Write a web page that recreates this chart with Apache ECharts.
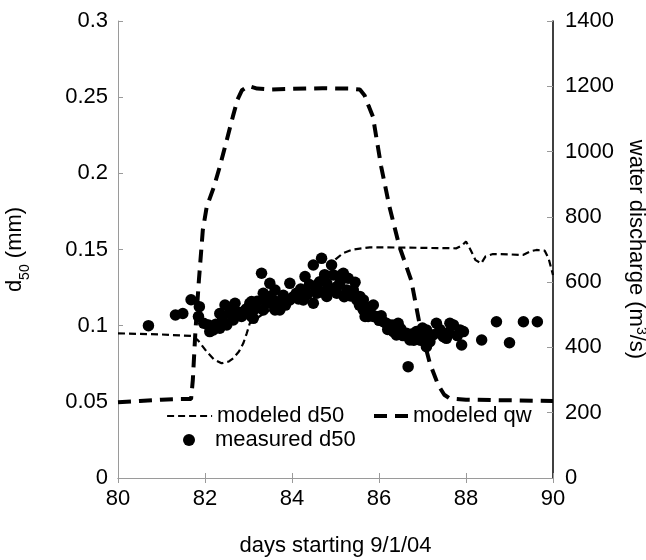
<!DOCTYPE html>
<html>
<head>
<meta charset="utf-8">
<script src="https://cdn.jsdelivr.net/npm/echarts@6/dist/echarts.min.js"></script>
<style>
html,body{margin:0;padding:0;background:#fff;}
#chart{width:646px;height:560px;}
</style>
</head>
<body>
<div id="chart"></div>
<script>
// ---- data ----
var xTicks = [80, 82, 84, 86, 88, 90];
var leftTicks = [0, 0.05, 0.1, 0.15, 0.2, 0.25, 0.3];
var rightTicks = [0, 200, 400, 600, 800, 1000, 1200, 1400];

// modeled water discharge (day, m3/s)
var qwDays = [80, 80.5, 81.0, 81.4, 81.68, 81.72, 81.78, 81.86, 81.95, 82.04, 82.2, 82.34, 82.5, 82.64, 82.75, 82.85, 83.0, 83.2, 83.5, 84.0, 84.7, 85.3, 85.56, 85.67, 85.76, 85.86, 86.05, 86.24, 86.47, 86.74, 86.93, 87.17, 87.36, 87.5, 87.62, 88.0, 89.0, 90];
var qwVals = [232, 236, 240, 242, 242, 300, 450, 606, 760, 831, 890, 954, 1035, 1107, 1160, 1188, 1201, 1193, 1190, 1192, 1194, 1193, 1190, 1172, 1140, 1107, 954, 831, 709, 606, 474, 351, 285, 255, 244, 240, 238, 236];

// modeled d50 (day, mm)
var d50ModDays = [80, 81.0, 81.73, 81.85, 82.04, 82.2, 82.38, 82.55, 82.65, 82.78, 82.88, 82.96, 83.03, 83.3, 83.6, 84.0, 84.4, 84.7, 84.87, 85.0, 85.17, 85.4, 85.79, 86.5, 87.2, 87.78, 87.9, 88.0, 88.1, 88.22, 88.35, 88.45, 88.62, 89.0, 89.31, 89.5, 89.62, 89.81, 89.9, 90];
var d50ModVals = [0.095, 0.0942, 0.0932, 0.09, 0.0829, 0.078, 0.0753, 0.0765, 0.0786, 0.083, 0.0884, 0.095, 0.1016, 0.107, 0.112, 0.118, 0.126, 0.134, 0.1387, 0.1435, 0.1475, 0.150, 0.1514, 0.1513, 0.151, 0.1508, 0.1525, 0.1552, 0.150, 0.143, 0.1409, 0.1455, 0.147, 0.1468, 0.1464, 0.149, 0.1497, 0.1492, 0.144, 0.1333];

// measured d50 (day, mm)
var measDays = [80.70, 81.32, 81.49, 81.68, 81.87, 81.85, 81.97, 82.08, 82.11, 82.19, 82.34, 82.34, 82.46, 82.50, 82.65, 82.69, 82.84, 82.88, 83.03, 83.07, 83.07, 83.11, 83.30, 83.34, 83.34, 83.49, 83.49, 83.49, 83.57, 83.61, 83.61, 83.68, 83.72, 83.72, 83.95, 83.95, 84.03, 84.10, 84.26, 84.30, 84.49, 84.49, 84.57, 84.64, 84.68, 84.80, 84.80, 84.91, 84.95, 85.03, 85.03, 85.14, 85.18, 85.26, 85.29, 85.41, 85.49, 85.56, 85.64, 85.64, 85.68, 85.75, 85.87, 85.87, 85.94, 86.10, 86.17, 86.25, 86.33, 86.40, 86.40, 86.44, 86.63, 86.67, 86.71, 86.86, 86.86, 86.94, 87.09, 87.09, 87.09, 87.17, 87.32, 87.48, 87.55, 87.63, 87.71, 87.86, 87.94, 87.90, 88.36, 88.70, 89.00, 89.32, 89.64,
  82.25, 82.40, 82.55, 82.60, 82.75, 82.95, 83.15, 83.20, 83.40, 83.80, 83.85, 84.15, 84.20, 84.35, 84.40, 84.55, 84.70, 84.75, 84.90, 85.10, 85.20, 85.35, 85.45, 85.55, 85.70, 85.80, 86.00, 86.05, 86.20, 86.30, 86.50, 86.55, 86.75, 86.80, 86.95, 87.00, 87.25, 87.40, 87.60, 87.80];
var measVals = [0.100, 0.107, 0.108, 0.117, 0.1125, 0.106, 0.1016, 0.1004, 0.0961, 0.0972, 0.0983, 0.108, 0.1136, 0.1004, 0.1037, 0.1147, 0.106, 0.1092, 0.1147, 0.1158, 0.106, 0.1048, 0.1344, 0.1213, 0.1103, 0.1278, 0.1192, 0.1147, 0.1169, 0.1234, 0.1103, 0.1147, 0.1103, 0.1158, 0.1278, 0.1169, 0.119, 0.1213, 0.1169, 0.1322, 0.1398, 0.1147, 0.1213, 0.1289, 0.1442, 0.1278, 0.1192, 0.1398, 0.1333, 0.1256, 0.1213, 0.1333, 0.1344, 0.1234, 0.1311, 0.1234, 0.1169, 0.1192, 0.1169, 0.1103, 0.106, 0.106, 0.1136, 0.106, 0.106, 0.1026, 0.1016, 0.0994, 0.0961, 0.1005, 0.0939, 0.1016, 0.095, 0.0731, 0.0906, 0.0928, 0.0961, 0.095, 0.0972, 0.0917, 0.0862, 0.0895, 0.1016, 0.0928, 0.0917, 0.1016, 0.1005, 0.0972, 0.0961, 0.0873, 0.0906, 0.1026, 0.0888, 0.1026, 0.1026,
  0.101, 0.1035, 0.108, 0.112, 0.109, 0.111, 0.111, 0.116, 0.1155, 0.120, 0.1135, 0.1175, 0.124, 0.1205, 0.127, 0.1245, 0.122, 0.1335, 0.123, 0.128, 0.119, 0.1195, 0.1285, 0.1135, 0.1125, 0.109, 0.1035, 0.1065, 0.0975, 0.1005, 0.098, 0.0935, 0.0945, 0.0905, 0.0905, 0.0985, 0.094, 0.0975, 0.0955, 0.0935];

function zip(a, b) { return a.map(function (v, i) { return [v, b[i]]; }); }

var FONT = "'Liberation Sans', Arial, Helvetica, sans-serif";
var GRAY = '#9a9a9a';
var FS = 22;

var chart = echarts.init(document.getElementById('chart'), null, {renderer: 'canvas'});
var option = {
  animation: false,
  backgroundColor: '#fff',
  textStyle: {fontFamily: FONT, color: '#000'},
  grid: {left: 118, right: 93, top: 21, bottom: 82, containLabel: false, outerBoundsMode: 'none'},
  legend: [
    {data: [{name: 'modeled d50'}], left: 166, top: 405, padding: 0, itemWidth: 45, itemHeight: 14,
     itemStyle: {opacity: 0}, lineStyle: {color: '#000', width: 2.2, type: [7, 4]},
     textStyle: {fontSize: FS, fontFamily: FONT, color: '#000'}, selectedMode: false},
    {data: [{name: 'measured d50', icon: 'circle'}], left: 183, top: 429, padding: 0, itemWidth: 42, itemHeight: 12,
     itemStyle: {color: '#000', opacity: 1},
     textStyle: {fontSize: FS, fontFamily: FONT, color: '#000'}, selectedMode: false},
    {data: [{name: 'modeled qw'}], left: 372, top: 405, padding: 0, itemWidth: 34, itemHeight: 14,
     itemStyle: {opacity: 0}, lineStyle: {color: '#000', width: 4, type: [13, 8]},
     textStyle: {fontSize: FS, fontFamily: FONT, color: '#000'}, selectedMode: false}
  ],
  xAxis: [
    {type: 'value', position: 'bottom', min: xTicks[0], max: xTicks[xTicks.length - 1], interval: 2,
     axisLine: {show: true, lineStyle: {color: GRAY, width: 1}},
     axisTick: {show: true, inside: true, length: 5, lineStyle: {color: GRAY}},
     axisLabel: {fontSize: FS, color: '#000', margin: 10, fontFamily: FONT},
     splitLine: {show: false},
     name: 'days starting 9/1/04', nameLocation: 'middle', nameGap: 57,
     nameTextStyle: {fontSize: FS, color: '#000', fontFamily: FONT}},
    {type: 'value', position: 'top', min: xTicks[0], max: xTicks[xTicks.length - 1], interval: 2,
     axisLine: {show: true, lineStyle: {color: GRAY, width: 1}},
     axisTick: {show: true, inside: true, length: 5, lineStyle: {color: GRAY}},
     axisLabel: {show: false}, splitLine: {show: false}}
  ],
  yAxis: [
    {type: 'value', position: 'left', min: leftTicks[0], max: leftTicks[leftTicks.length - 1], interval: 0.05,
     axisLine: {show: true, lineStyle: {color: GRAY, width: 1}},
     axisTick: {show: true, inside: true, length: 5, lineStyle: {color: GRAY}},
     axisLabel: {fontSize: FS, color: '#000', margin: 10, fontFamily: FONT},
     splitLine: {show: false},
     name: '{a|d}{b|50}{a| (mm)}', nameLocation: 'middle', nameGap: 86, nameRotate: 90,
     nameTextStyle: {fontSize: FS, color: '#000', fontFamily: FONT,
       rich: {a: {fontSize: FS, fontFamily: FONT, color: '#000', verticalAlign: 'bottom', padding: [0, 0, 6, 0]},
              b: {fontSize: 14, fontFamily: FONT, color: '#000', verticalAlign: 'bottom'}}}},
    {type: 'value', position: 'right', min: rightTicks[0], max: rightTicks[rightTicks.length - 1], interval: 200,
     axisLine: {show: true, lineStyle: {color: '#000', width: 1.5}},
     axisTick: {show: true, inside: true, length: 6, lineStyle: {color: GRAY}},
     axisLabel: {fontSize: FS, color: '#000', margin: 12, fontFamily: FONT,
       formatter: function (v) { return String(v); }},
     splitLine: {show: false},
     name: '{a|water discharge (m}{s|3}{a|/s)}', nameLocation: 'middle', nameGap: 60, nameRotate: -90,
     nameTextStyle: {fontSize: FS, color: '#000', fontFamily: FONT,
       rich: {a: {fontSize: FS, fontFamily: FONT, color: '#000', verticalAlign: 'bottom'},
              s: {fontSize: 14, fontFamily: FONT, color: '#000', verticalAlign: 'bottom', padding: [0, 0, 9, 0]}}}}
  ],
  series: [
    {name: 'modeled d50', type: 'line', xAxisIndex: 0, yAxisIndex: 0, data: zip(d50ModDays, d50ModVals),
     symbol: 'none', smooth: false, color: '#000',
     lineStyle: {color: '#000', width: 2.2, type: [7, 4]}, z: 3},
    {name: 'modeled qw', type: 'line', xAxisIndex: 0, yAxisIndex: 1, data: zip(qwDays, qwVals),
     symbol: 'none', smooth: false, color: '#000',
     lineStyle: {color: '#000', width: 4, type: [13, 8]}, z: 3},
    {name: 'measured d50', type: 'scatter', xAxisIndex: 0, yAxisIndex: 0, data: zip(measDays, measVals),
     symbol: 'circle', symbolSize: 11.5, color: '#000', itemStyle: {color: '#000', opacity: 1}, z: 4}
  ]
};
chart.setOption(option);
</script>
</body>
</html>
